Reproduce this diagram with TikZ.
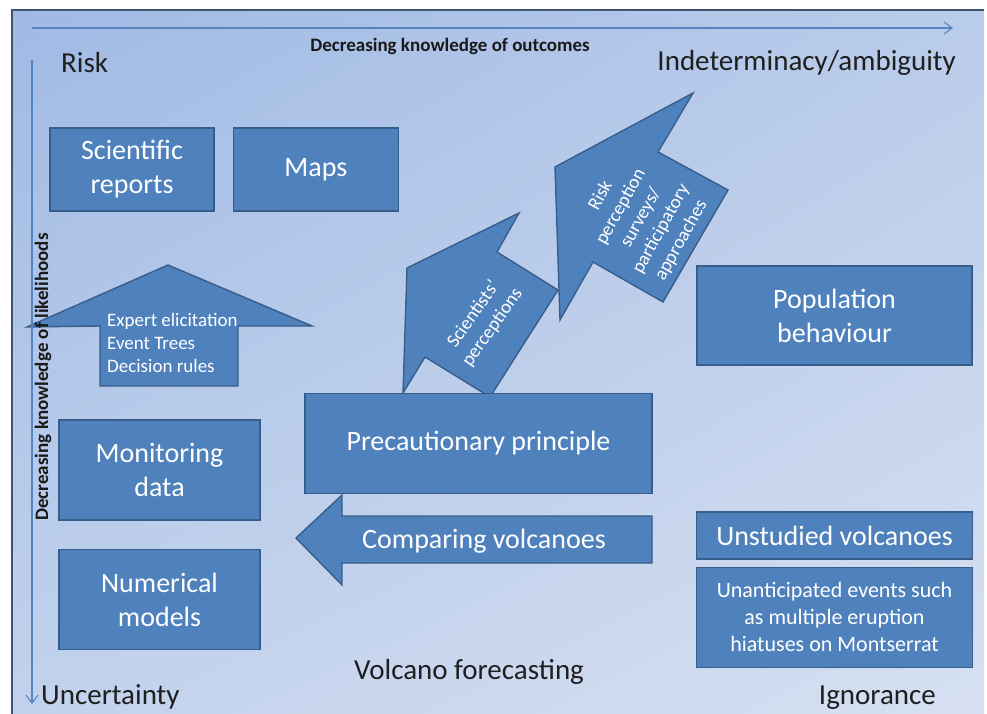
\documentclass[tikz,border=0pt]{standalone}
\usepackage{fontspec}
\setmainfont{Carlito}
\usetikzlibrary{arrows.meta,positioning,shadings}

\definecolor{boxblue}{RGB}{79,129,189}
\definecolor{boxedge}{RGB}{56,93,138}
\definecolor{axisblue}{RGB}{86,132,192}
\definecolor{frameedge}{RGB}{62,84,112}
\definecolor{bgtl}{RGB}{160,186,228}
\definecolor{bgtr}{RGB}{186,204,235}
\definecolor{bgbl}{RGB}{194,210,237}
\definecolor{bgbr}{RGB}{214,224,241}

\begin{document}
\begin{tikzpicture}[x=1pt, y=-1pt,
    box/.style={draw=boxedge, fill=boxblue, line width=1.4pt, text=white,
      align=center, inner sep=0pt, font=\fontsize{28}{34}\selectfont},
    blockarr/.style={draw=boxedge, fill=boxblue, line width=1.4pt},
    axis/.style={draw=axisblue, line width=1.1pt,
      -{Straight Barb[length=8pt, width=12pt]}},
    corner/.style={font=\fontsize{29}{34}\selectfont, text=black!88},
    axlbl/.style={font=\bfseries\fontsize{19}{23}\selectfont, text=black!90},
    inlbl/.style={text=white, align=center, inner sep=0pt,
      font=\fontsize{19}{23}\selectfont},
  ]
  \useasboundingbox (0,0) rectangle (987,714);

  % --- slide background ---
  \shade[upper left=bgtl, upper right=bgtr, lower left=bgbl, lower right=bgbr]
    (12,10) rectangle (984,714);
  \draw[frameedge, line width=2.2pt] (12,714) -- (12,10) -- (984,10);
  \draw[white!85!bgbr, line width=1pt] (984,10) -- (984,714);

  % --- block arrows ---
  % expert elicitation (up)
  \draw[blockarr] (27,327) -- (168,265) -- (312,326) -- (238,326)
    -- (238,386) -- (100,386) -- (100,326) -- cycle;
  \node[inlbl, align=left, anchor=west] (expert) at (107,343)
    {Expert elicitation\\Event Trees\\Decision rules};

  % comparing volcanoes (left)
  \draw[blockarr] (296,538) -- (342,495) -- (342,516) -- (652,516)
    -- (652,563) -- (342,563) -- (342,585) -- cycle;

  % scientists' perceptions
  \draw[blockarr] (403,393) -- (407,268) -- (519,213) -- (497,252)
    -- (558,290) -- (490,397) -- (425,357) -- cycle;
  \node[inlbl, rotate=55] (scip) at (483,321) {Scientists'\\perceptions};

  % risk perception surveys
  \draw[blockarr] (560,320) -- (555,167) -- (693,93) -- (658,152)
    -- (728,190) -- (663,302) -- (593,262) -- cycle;
  \node[inlbl, rotate=61] (rps) at (641,218)
    {Risk\\perception\\surveys/\\participatory\\approaches};

  % --- axes ---
  \coordinate (hstart) at (32,28);
  \coordinate (hend) at (953,28);
  \coordinate (vstart) at (32,60);
  \coordinate (vend) at (32,704);
  \draw[axis] (hstart) -- (hend);
  \draw[axis] (vstart) -- (vend);
  \node[axlbl] (outc) at (450,46) {Decreasing knowledge of outcomes};
  \node[axlbl, rotate=90] (likel) at (43,377) {Decreasing knowledge of likelihoods};

  % --- corner labels ---
  \node[corner, anchor=west, inner sep=0pt] (risk) at (61,63) {Risk};
  \node[corner, anchor=east, inner sep=0pt] (indet) at (956,63) {Indeterminacy/ambiguity};
  \node[corner, anchor=west, inner sep=0pt] (uncert) at (41,697) {Uncertainty};
  \node[corner, anchor=east, inner sep=0pt] (ignor) at (936,698) {Ignorance};
  \node[corner] (forec) at (469,672) {Volcano forecasting};

  % --- boxes ---
  \node[box, minimum width=164pt, minimum height=83pt] (sci) at (132,169.5)
    {Scientific\\reports};
  \node[box, minimum width=165pt, minimum height=83pt, right=18pt of sci] (maps)
    {Maps};
  \node[box, minimum width=275pt, minimum height=99pt] (pop) at (834.5,315.5)
    {Population\\behaviour};
  \node[box, minimum width=347pt, minimum height=100pt] (prec) at (478.5,443.5)
    {Precautionary principle};
  \node[box, minimum width=201pt, minimum height=100pt] (mon) at (159.5,470)
    {Monitoring\\data};
  \node[box, minimum width=201pt, minimum height=100pt, below=28pt of mon] (num)
    {Numerical\\models};
  \node[box, minimum width=276pt, minimum height=47pt] (unst) at (834.5,535.5)
    {Unstudied volcanoes};
  \node[box, minimum width=276pt, minimum height=100pt, below=7pt of unst,
    font=\fontsize{22}{27}\selectfont] (unant)
    {Unanticipated events such\\as multiple eruption\\hiatuses on Montserrat};

  \node[text=white, font=\fontsize{28}{34}\selectfont] (comp) at (484,541)
    {Comparing volcanoes};
\end{tikzpicture}
\end{document}
